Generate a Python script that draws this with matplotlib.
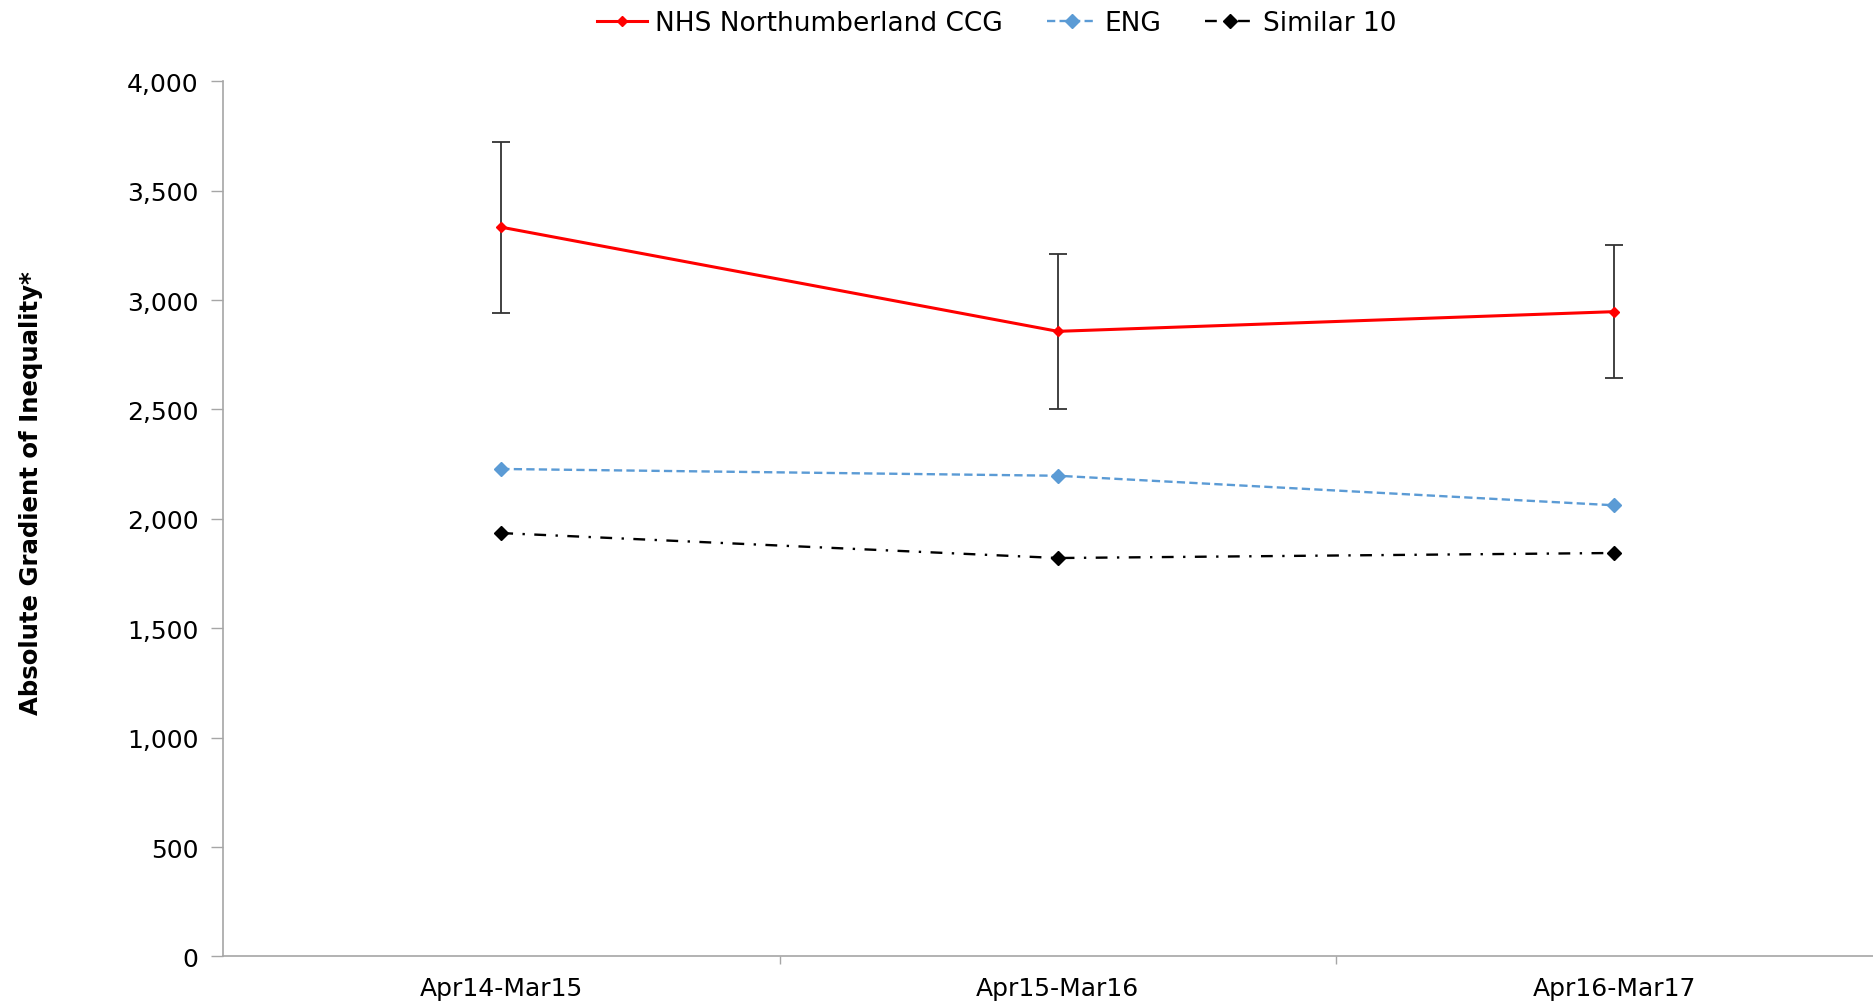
import matplotlib
matplotlib.use("Agg")
import matplotlib.pyplot as plt
from matplotlib.ticker import FuncFormatter, MultipleLocator

categories = ["Apr14-Mar15", "Apr15-Mar16", "Apr16-Mar17"]
nhs = [3333, 2857, 2947]
nhs_low = [2941, 2501, 2642]
nhs_high = [3721, 3209, 3253]
eng = [2228, 2197, 2062]
similar10 = [1935, 1821, 1844]

plt.rcParams['font.family'] = ['DejaVu Sans']

FS = 18

fig = plt.figure(figsize=(18.74, 10.03), dpi=100)
ax = fig.add_axes([0.119, 0.0454, 0.8909, 0.8726])

x = list(range(len(categories)))
yerr = [[v - lo for v, lo in zip(nhs, nhs_low)], [hi - v for v, hi in zip(nhs, nhs_high)]]
ax.errorbar(x, nhs, yerr=yerr, fmt='none', ecolor='#333333', elinewidth=1.3,
            capsize=6.5, capthick=1.3, zorder=2)
ax.plot(x, nhs, color='#ff0000', lw=2.2, marker='D', ms=5.5, label='NHS Northumberland CCG', zorder=3)
ax.plot(x, eng, color='#5b9bd5', lw=1.7, ls=(0, (3.5, 1.8)), marker='D', ms=7, label='ENG', zorder=3)
ax.plot(x, similar10, color='#000000', lw=1.7, ls=(0, (5, 4, 1, 4)), marker='D', ms=7,
        label='Similar 10', zorder=3)

ax.set_xlim(-0.5, 2.5)
ax.set_ylim(0, 4000)
ax.yaxis.set_major_locator(MultipleLocator(500))
ax.yaxis.set_major_formatter(FuncFormatter(lambda v, p: f"{int(v):,}"))
ax.set_xticks(x)
ax.set_xticklabels(categories)
ax.set_xticks([0.5, 1.5], minor=True)
ax.tick_params(axis='x', which='major', length=0, labelsize=FS, pad=14, colors='#000000')
ax.tick_params(axis='x', which='minor', length=6, color='#a6a6a6', width=1)
ax.tick_params(axis='y', length=9, color='#a6a6a6', width=1, labelsize=FS, pad=8.5)

for s in ['top', 'right']:
    ax.spines[s].set_visible(False)
for s in ['left', 'bottom']:
    ax.spines[s].set_color('#a6a6a6')
    ax.spines[s].set_linewidth(1.2)

ax.set_ylabel('Absolute Gradient of Inequality*', fontsize=17.6, fontweight='bold')
ax.yaxis.set_label_coords(-0.108, 0.53)

fig.legend(loc='center', bbox_to_anchor=(0.532, 0.976), ncol=3, frameon=False,
           fontsize=19, handlelength=1.9, columnspacing=1.65, handletextpad=0.3)

fig.savefig('out.png', dpi=100)
